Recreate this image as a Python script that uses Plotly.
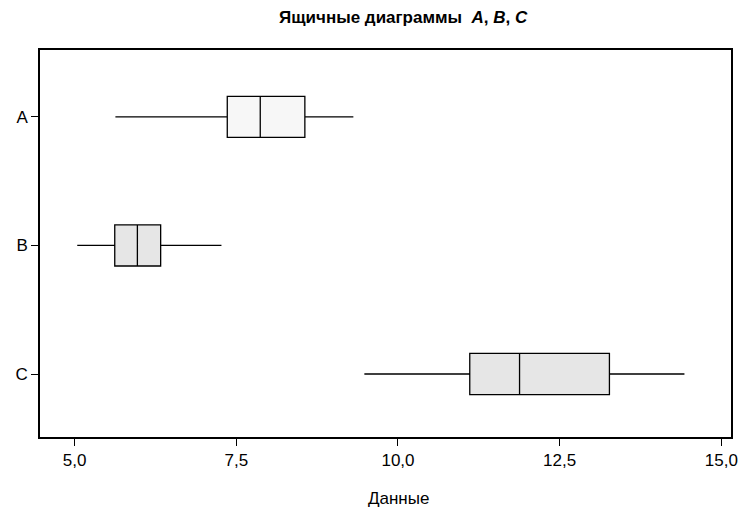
import plotly.graph_objects as go

categories = ["A", "B", "C"]
lower_whisker = [5.63, 5.04, 9.48]
q1_values = [7.36, 5.62, 11.11]
median_values = [7.87, 5.97, 11.88]
q3_values = [8.56, 6.33, 13.27]
upper_whisker = [9.31, 7.27, 14.43]
fill_colors = ["#f7f7f7", "#e6e6e6", "#e6e6e6"]

x_tick_vals = [5.0, 7.5, 10.0, 12.5, 15.0]
x_tick_text = ["5,0", "7,5", "10,0", "12,5", "15,0"]

fig = go.Figure()
for i, cat in enumerate(categories):
    fig.add_trace(go.Box(
        y=[cat], orientation="h",
        lowerfence=[lower_whisker[i]], q1=[q1_values[i]], median=[median_values[i]],
        q3=[q3_values[i]], upperfence=[upper_whisker[i]],
        width=0.32, whiskerwidth=0,
        fillcolor=fill_colors[i],
        line=dict(color="black", width=1.3),
        showlegend=False, hoverinfo="skip",
    ))

font_family = "Liberation Sans, Arial, sans-serif"
fig.update_layout(
    width=743, height=512,
    margin=dict(l=40, r=5, t=50, b=75),
    paper_bgcolor="white", plot_bgcolor="white",
    font=dict(family=font_family, color="black", size=17),
    annotations=[
        dict(text="<b>Ящичные диаграммы  <i>A</i>, <i>B</i>, <i>C</i></b>",
             xref="paper", yref="paper", x=0.526, y=1.0, yshift=33,
             xanchor="center", yanchor="middle", showarrow=False,
             font=dict(size=17, family=font_family)),
        dict(text="Данные", xref="paper", yref="paper", x=0.519, y=0, yshift=-61,
             xanchor="center", yanchor="middle", showarrow=False,
             font=dict(size=17, family=font_family)),
    ],
)
fig.update_xaxes(
    range=[4.464, 15.15], tickvals=x_tick_vals, ticktext=x_tick_text,
    showgrid=False, zeroline=False, showline=True, mirror=True,
    linecolor="black", linewidth=1.5, ticks="outside", ticklen=7,
    tickcolor="black", tickwidth=1.3, tickfont=dict(size=17),
    ticklabeloverflow="allow",
)
fig.update_yaxes(
    type="category", categoryorder="array", categoryarray=categories,
    range=[2.49, -0.52], showgrid=False, zeroline=False, showline=True, mirror=True,
    linecolor="black", linewidth=1.5, ticks="outside", ticklen=7,
    tickcolor="black", tickwidth=1.3, tickfont=dict(size=17),
)
fig.write_html("out.html")
